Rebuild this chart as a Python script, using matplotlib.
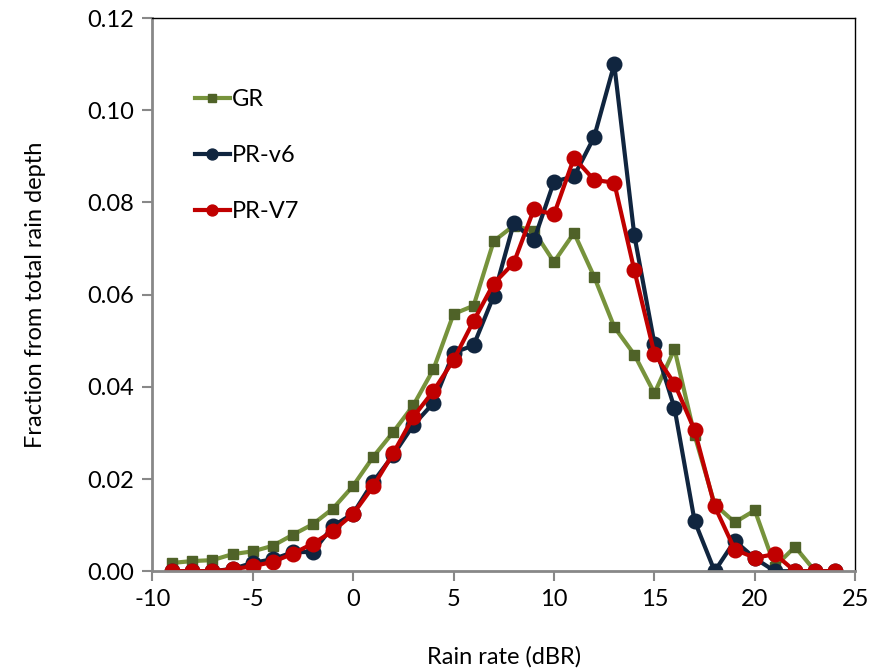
import matplotlib.pyplot as plt
import numpy as np

plt.rcParams['font.family'] = ['Lato', 'DejaVu Sans']
plt.rcParams['axes.unicode_minus'] = False

rain_rate = list(range(-9, 25))

gr = [0.0018, 0.0022, 0.0024, 0.0037, 0.0043, 0.0055, 0.0079, 0.0102, 0.0136,
      0.0185, 0.0248, 0.0302, 0.0360, 0.0438, 0.0558, 0.0576, 0.0716, 0.0750,
      0.0738, 0.0671, 0.0734, 0.0639, 0.0530, 0.0470, 0.0386, 0.0482, 0.0295,
      0.0145, 0.0106, 0.0132, 0.0010, 0.0053, 0.0, 0.0]

pr_v6 = [0.0, 0.0, 0.0, 0.0005, 0.0018, 0.0026, 0.0041, 0.0042, 0.0098,
         0.0125, 0.0194, 0.0252, 0.0317, 0.0365, 0.0474, 0.0490, 0.0597, 0.0755,
         0.0718, 0.0845, 0.0857, 0.0942, 0.1100, 0.0729, 0.0494, 0.0354, 0.0109,
         0.0, 0.0066, 0.0028, 0.0, 0.0, 0.0, 0.0]

pr_v7 = [0.0, 0.0, 0.0, 0.0004, 0.0011, 0.0020, 0.0038, 0.0060, 0.0087,
         0.0124, 0.0184, 0.0256, 0.0335, 0.0391, 0.0458, 0.0543, 0.0624, 0.0669,
         0.0785, 0.0774, 0.0897, 0.0849, 0.0843, 0.0653, 0.0472, 0.0407, 0.0306,
         0.0141, 0.0047, 0.0029, 0.0037, 0.0, 0.0, 0.0]

fig = plt.figure(figsize=(8.9, 6.72), dpi=100)
ax = fig.add_axes([0.171, 0.150, 0.790, 0.823])

ax.plot(rain_rate, gr, color='#77933C', lw=3, marker='s', ms=7.3,
        mfc='#4F6228', mec='#4F6228', label='GR')
ax.plot(rain_rate, pr_v6, color='#10253F', lw=3, marker='o', ms=10.5,
        mfc='#10253F', mec='#10253F', label='PR-v6')
ax.plot(rain_rate, pr_v7, color='#C00000', lw=3, marker='o', ms=10.5,
        mfc='#C00000', mec='#C00000', label='PR-V7')

ax.set_xlim(-10, 25)
ax.set_ylim(0, 0.12)
ax.set_xticks(np.arange(-10, 26, 5))
ax.set_yticks(np.arange(0, 0.121, 0.02))
ax.set_yticklabels(['%.2f' % v for v in np.arange(0, 0.121, 0.02)])
ax.tick_params(labelsize=17, length=7, width=1.5, color='#888888', pad=6)

for s in ['left', 'bottom']:
    ax.spines[s].set_color('#888888')
    ax.spines[s].set_linewidth(2)
for s in ['top', 'right']:
    ax.spines[s].set_color('black')
    ax.spines[s].set_linewidth(1)

ax.set_xlabel('Rain rate (dBR)', fontsize=17, labelpad=26)
ax.set_ylabel('Fraction from total rain depth', fontsize=17, labelpad=30)

ax.legend(loc='upper left', bbox_to_anchor=(0.03, 0.91), frameon=False,
          fontsize=17, handlelength=1.5, handletextpad=0.1, labelspacing=1.48,
          markerscale=0.75)

fig.savefig('out.png', dpi=100)
